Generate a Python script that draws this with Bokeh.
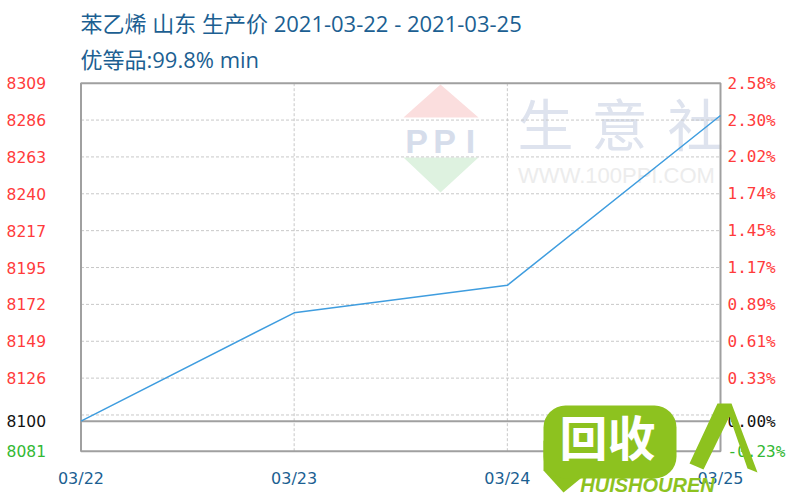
from bokeh.plotting import figure
from bokeh.models import Range1d, LinearAxis, FixedTicker, Label, BoxAnnotation
from bokeh.core.properties import value
from bokeh.embed import file_html
from bokeh.resources import INLINE

# ---------------- data ----------------
dates = ["03/22", "03/23", "03/24", "03/25"]
prices = [8100, 8167, 8184, 8289]
base_price = 8100
y_min = 8081.4
y_max = 8309.0
left_ticks = [8081.4, 8100.0, 8126.6, 8149.4, 8172.2, 8195.0, 8217.8, 8240.6, 8263.4, 8286.2, 8309.0]
left_labels = ["8081", "8100", "8126", "8149", "8172", "8195", "8217", "8240", "8263", "8286", "8309"]
right_labels = ["-0.23%", "0.00%", "0.33%", "0.61%", "0.89%", "1.17%", "1.45%", "1.74%", "2.02%", "2.30%", "2.58%"]
grid_ticks = [8103.8, 8126.6, 8149.4, 8172.2, 8195.0, 8217.8, 8240.6, 8263.4, 8286.2]
title_line1 = "苯乙烯 山东 生产价 2021-03-22 - 2021-03-25"
title_line2 = "优等品:99.8% min"

# watermark texts
ppi_letters = ["P", "P", "I"]
brand_chars = ["生", "意", "社"]
site_text = "WWW.100PPI.COM"
logo_text = "回收"
logo_sub = "HUISHOUREN"

# ---------------- layout (canvas pixels) ----------------
FIG_W, FIG_H = 798, 498
BOX_L, BOX_R, BOX_T, BOX_B = 80.5, 720.0, 82.7, 450.7

RED = "#ff3b3b"
GREEN = "#33b833"
BLUE_TXT = "#1c5f92"
CJK = "Noto Sans CJK SC"
GRID_C = "#c8c8c8"
FRAME_C = "#a0a0a0"
LOGO_G = "#8dc21f"

xs = list(range(len(dates)))
pct = lambda v: (v - base_price) / base_price * 100.0

ppd = (BOX_R - BOX_L) / (xs[-1] - xs[0])
ppu = (BOX_B - BOX_T) / (y_max - y_min)
x_start = xs[0] - BOX_L / ppd
x_end = xs[-1] + (FIG_W - BOX_R) / ppd
y_start = y_min - (FIG_H - BOX_B) / ppu
y_end = y_max + BOX_T / ppu

p = figure(width=FIG_W, height=FIG_H, output_backend="svg", toolbar_location=None,
           x_range=Range1d(x_start, x_end), y_range=Range1d(y_start, y_end),
           x_axis_type=None, y_axis_type=None, min_border=0)
p.background_fill_color = "white"
p.border_fill_color = "white"
p.outline_line_color = None
p.xgrid.visible = False
p.ygrid.visible = False

p.extra_y_ranges = {"pct": Range1d(pct(y_start), pct(y_end)),
                    "px": Range1d(FIG_H, 0)}
p.extra_x_ranges = {"px": Range1d(0, FIG_W)}
PX = dict(x_range_name="px", y_range_name="px")

# ---------------- watermark (behind) ----------------
p.patch([403, 440, 478], [117, 84, 117], fill_color="#fbdede", line_color=None, level="image", **PX)
p.patch([403, 440, 478], [157, 192, 157], fill_color="#def2e0", line_color=None, level="image", **PX)
p.text(x=[416, 444, 470], y=[140, 140, 140], text=ppi_letters, level="image",
       text_font=value("Liberation Sans"), text_font_style="bold", text_font_size="34px",
       text_align="center", text_baseline="middle", text_color="#d6ddeb", **PX)
p.text(x=[545, 619, 695], y=[121, 121, 121], text=brand_chars, level="image",
       text_font=value(CJK), text_font_size="56px",
       text_align="center", text_baseline="middle", text_color="#dee3ee", **PX)
p.text(x=[616], y=[175], text=[site_text], level="image",
       text_font=value("Liberation Sans"), text_font_size="22px",
       text_align="center", text_baseline="middle", text_color="#ececec", **PX)

# ---------------- grid lines (dashed) ----------------
p.segment(x0=[xs[0]] * len(grid_ticks), x1=[xs[-1]] * len(grid_ticks), y0=grid_ticks, y1=grid_ticks,
          line_color=GRID_C, line_dash="3 2", line_width=1, level="underlay")
p.segment(x0=xs[1:-1], x1=xs[1:-1], y0=[y_min] * len(xs[1:-1]), y1=[y_max] * len(xs[1:-1]),
          line_color=GRID_C, line_dash="3 2", line_width=1, level="underlay")

# base line and plot box
p.segment(x0=[xs[0]], x1=[xs[-1]], y0=[base_price], y1=[base_price], line_color=FRAME_C, line_width=2)
p.quad(left=[xs[0]], right=[xs[-1]], bottom=[y_min], top=[y_max],
       fill_color=None, line_color=FRAME_C, line_width=2)

# ---------------- data line ----------------
p.line(xs, prices, line_color="#3f9ddf", line_width=1.5)

# ---------------- axes (fixed on the plot box edges) ----------------
common = dict(axis_line_color=None, major_tick_line_color=None, minor_tick_line_color=None,
              major_tick_in=0, major_tick_out=0, minor_tick_in=0, minor_tick_out=0)

p.add_layout(LinearAxis(fixed_location=y_min, ticker=FixedTicker(ticks=xs),
                        major_label_overrides={x: d for x, d in zip(xs, dates)},
                        major_label_standoff=18, major_label_text_color=BLUE_TXT,
                        major_label_text_font="DejaVu Sans", major_label_text_font_size="16px",
                        **common), "below")

left_groups = [(left_ticks[2:], left_labels[2:], RED),
               (left_ticks[1:2], left_labels[1:2], "#111111"),
               (left_ticks[0:1], left_labels[0:1], GREEN)]
for ticks, labels, color in left_groups:
    p.add_layout(LinearAxis(fixed_location=xs[0], ticker=FixedTicker(ticks=ticks),
                            major_label_overrides={t: s for t, s in zip(ticks, labels)},
                            major_label_standoff=35, major_label_text_color=color,
                            major_label_text_font="DejaVu Sans", major_label_text_font_size="15.5px",
                            **common), "left")

pct_ticks = [pct(t) for t in left_ticks]
right_groups = [(pct_ticks[2:], right_labels[2:], RED),
                (pct_ticks[1:2], right_labels[1:2], "#111111"),
                (pct_ticks[0:1], right_labels[0:1], GREEN)]
for ticks, labels, color in right_groups:
    p.add_layout(LinearAxis(fixed_location=xs[-1], y_range_name="pct", ticker=FixedTicker(ticks=ticks),
                            major_label_overrides={t: s for t, s in zip(ticks, labels)},
                            major_label_standoff=7, major_label_text_color=color,
                            major_label_text_font="DejaVu Sans Mono", major_label_text_font_size="16px",
                            **common), "right")

# ---------------- titles ----------------
p.text(x=[80, 80], y=[22, 58], text=[title_line1, title_line2],
       text_font=value("Open Sans, Noto Sans CJK SC"), text_font_size="22px",
       text_align="left", text_baseline="middle", text_color=BLUE_TXT, **PX)

# ---------------- overlay logo ----------------
p.add_layout(BoxAnnotation(left=543, right=676, top=405, bottom=478, fill_color=LOGO_G,
                           fill_alpha=1.0, line_color=None, border_radius=22, level="overlay", **PX))
p.patch([543, 543, 563, 585], [440, 470, 492, 474],
        fill_color=LOGO_G, line_color=None, level="overlay", **PX)
p.patch([689, 703, 729, 747, 757, 731, 717], [463, 469, 416, 468, 472, 403, 403],
        fill_color=LOGO_G, line_color=None, level="overlay", **PX)
p.add_layout(Label(x=607, y=434, text=logo_text,
                   text_align="center", text_baseline="middle", text_color="white",
                   text_font=CJK, text_font_style="bold", text_font_size="48px", level="overlay", **PX))
p.add_layout(Label(x=647, y=484, text=logo_sub,
                   text_align="center", text_baseline="middle", text_color=LOGO_G,
                   text_font="Liberation Sans", text_font_style="bold italic",
                   text_font_size="20px", level="overlay", **PX))

open("out.html", "w").write(file_html(p, INLINE))
